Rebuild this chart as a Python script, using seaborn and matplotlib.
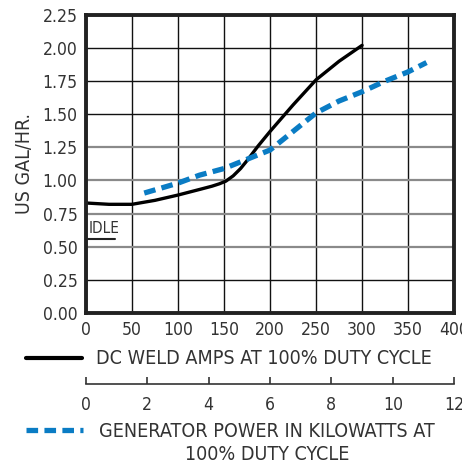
import matplotlib
matplotlib.use('Agg')
import matplotlib.pyplot as plt
from matplotlib import font_manager
from matplotlib.lines import Line2D
import seaborn as sns

# welding amps vs fuel use
weld_amps = [0, 25, 50, 75, 100, 125, 137, 145, 152, 160, 168, 175, 187, 200, 225, 250, 275, 300]
weld_gal = [0.83, 0.82, 0.82, 0.85, 0.89, 0.935, 0.957, 0.975, 0.995, 1.035, 1.09, 1.15, 1.26,
            1.37, 1.57, 1.76, 1.90, 2.02]

# generator kW vs fuel use
gen_kw = [1.9, 3.0, 3.7, 4.5, 5.25, 6.0, 6.75, 7.5, 8.25, 9.0, 9.75, 10.5, 11.1]
gen_gal = [0.905, 0.98, 1.04, 1.09, 1.16, 1.23, 1.37, 1.51, 1.60, 1.67, 1.75, 1.82, 1.89]

idle_amps = [0, 32]
idle_gal = [0.56, 0.56]

yticks = [0, 0.25, 0.5, 0.75, 1.0, 1.25, 1.5, 1.75, 2.0, 2.25]
gray_rows = [0.5, 0.75, 1.0, 1.25]

sns.set_style('white')

# pick a narrow face if one is around
fonts = font_manager.fontManager.ttflist
names = {f.name for f in fonts}
narrow = [f for f in fonts if f.name == 'DejaVu Sans' and str(f.stretch) in ('condensed', '375')]
if 'Liberation Sans Narrow' in names:
    plt.rcParams['font.family'] = ['Liberation Sans Narrow', 'DejaVu Sans']
    k = 1.09
elif narrow:
    plt.rcParams['font.family'] = ['DejaVu Sans']
    plt.rcParams['font.stretch'] = 'condensed'
    k = 1.0
else:
    plt.rcParams['font.family'] = ['Roboto', 'DejaVu Sans']
    k = 0.95
txt = '#333333'

fig = plt.figure(figsize=(4.62, 4.65), dpi=100)
ax = fig.add_axes([0.186, 0.327, 0.797, 0.641])

sns.lineplot(x=weld_amps, y=weld_gal, ax=ax, color='black', lw=2.4)
sns.lineplot(x=idle_amps, y=idle_gal, ax=ax, color='#222222', lw=1.5)
ax.text(3, 0.605, 'IDLE', fontsize=11 * k, color=txt)

ax.set_xlim(0, 400)
ax.set_ylim(0, 2.25)
ax.set_xticks(range(0, 401, 50))
ax.set_yticks(yticks)
ax.set_yticklabels([f'{v:.2f}' for v in yticks])
ax.tick_params(length=0, labelsize=12.6 * k, labelcolor=txt, pad=6)
ax.set_ylabel('US GAL/HR.', fontsize=14 * k, color=txt, labelpad=6)
ax.grid(True, color='#111111', lw=1)
for v, gl in zip(yticks, ax.yaxis.get_gridlines()):
    if v in gray_rows:
        gl.set_color('#8a8a8a')
        gl.set_linewidth(1.6)
for s in ax.spines.values():
    s.set_color('#222222')
    s.set_linewidth(2.8)

ax2 = ax.twiny()
sns.lineplot(x=gen_kw, y=gen_gal, ax=ax2, color='#0a7cc4', lw=3.8)
ax2.lines[0].set_dashes((2.2, 1.2))
ax2.set_xlim(0, 12)
ax2.set_xticks([])
for s in ax2.spines.values():
    s.set_visible(False)
ax2.grid(False)

# kilowatt scale
ax3 = fig.add_axes([0.186, 0.175, 0.797, 0.001])
ax3.set_xlim(0, 12)
ax3.set_xticks(range(0, 13, 2))
ax3.set_yticks([])
for s in ['top', 'left', 'right']:
    ax3.spines[s].set_visible(False)
ax3.spines['bottom'].set_color('#333333')
ax3.spines['bottom'].set_linewidth(1.2)
ax3.tick_params(axis='x', bottom=True, direction='in', length=5, width=1.2, color='#333333',
                labelsize=12.6 * k, labelcolor=txt, pad=9)

# legend keys
fig.add_artist(Line2D([0.056, 0.178], [0.23, 0.23], color='black', lw=3))
fig.text(0.207, 0.23, 'DC WELD AMPS AT 100% DUTY CYCLE', fontsize=14.1 * k, color=txt, va='center')
fig.add_artist(Line2D([0.056, 0.18], [0.075, 0.075], color='#0a7cc4', lw=3.8, dashes=(2.2, 1.2)))
fig.text(0.578, 0.048, 'GENERATOR POWER IN KILOWATTS AT\n100% DUTY CYCLE', fontsize=14.1 * k,
         color=txt, ha='center', va='center', linespacing=1.25)

fig.savefig('out.png', dpi=100)
